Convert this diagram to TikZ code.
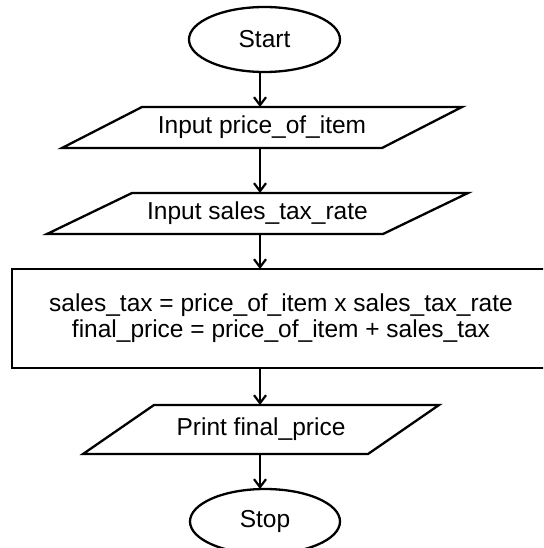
\documentclass[tikz,border=0pt]{standalone}
\usepackage{fontspec}
\setmainfont{Liberation Sans}
\usetikzlibrary{shapes.geometric,arrows.meta}
\tikzset{
  shapeline/.style={line width=2.3pt, line join=miter},
  boxtext/.style={font=\fontsize{24.5}{26}\selectfont, inner sep=0pt, outer sep=0pt, align=center},
  term/.style={boxtext, ellipse, draw, shapeline, minimum width=#1, minimum height=65pt},
  iobox/.style n args={2}{boxtext, rectangle, minimum width=#1, minimum height=#2},
  procbox/.style n args={2}{boxtext, rectangle, draw, shapeline, minimum width=#1, minimum height=#2},
  arr/.style={line width=2.2pt, -{Straight Barb[length=8pt,width=12pt,line width=2.2pt]}},
}
\newcommand{\iodraw}[2]{%
  \draw[shapeline] ([xshift=#2/2]#1.north west) -- ([xshift=#2/2]#1.north east)
    -- ([xshift=-#2/2]#1.south east) -- ([xshift=-#2/2]#1.south west) -- cycle;}
\begin{document}
\begin{tikzpicture}[x=1pt,y=-1pt]
\useasboundingbox (0,0) rectangle (543,548);
\fill[white] (0,0) rectangle (543,548);
\clip (0,0) rectangle (543,548);
\coordinate (ax) at (260,0);
\node[term=151pt] (start) at (264.5,39.5) {Start};
\node[iobox={320pt}{41pt}] (in1) at (262,127.5) {Input price\_of\_item};
\node[iobox={336pt}{41pt}] (in2) at (257.5,213.5) {Input sales\_tax\_rate};
\node[procbox={538pt}{99pt}] (calc) at (281,318.5) {sales\_tax = price\_of\_item x sales\_tax\_rate\\final\_price = price\_of\_item + sales\_tax};
\node[iobox={285pt}{49pt}] (out) at (261,429.5) {Print final\_price};
\node[term=150pt] (stop) at (265,521.5) {Stop};
\iodraw{in1}{80pt}
\iodraw{in2}{85pt}
\iodraw{out}{71pt}
\draw[arr] (start.south -| ax) -- (in1.north -| ax);
\draw[arr] (in1.south -| ax) -- (in2.north -| ax);
\draw[arr] (in2.south -| ax) -- (calc.north -| ax);
\draw[arr] (calc.south -| ax) -- (out.north -| ax);
\draw[arr] (out.south -| ax) -- (stop.north -| ax);
\end{tikzpicture}
\end{document}
